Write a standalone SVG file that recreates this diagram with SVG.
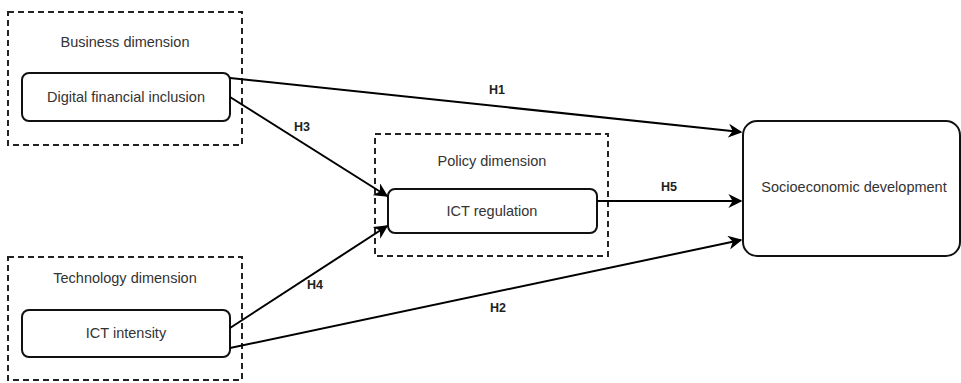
<svg xmlns="http://www.w3.org/2000/svg" width="961" height="383" viewBox="0 0 961 383">
<style>
.grp{fill:none;stroke:#222;stroke-width:2;stroke-dasharray:6 4}
.node{fill:#fff;stroke:#111;stroke-width:2}
.t{font-family:"Liberation Sans",Arial,sans-serif;font-size:14.5px;fill:#333;text-anchor:middle;dominant-baseline:central}
.lbl{font-family:"Liberation Sans",Arial,sans-serif;font-size:12.5px;font-weight:bold;fill:#222;text-anchor:middle;dominant-baseline:central}
.e{fill:none;stroke:#000;stroke-width:2}
</style>
<defs>
<marker id="arr" viewBox="0 0 10 10" refX="9" refY="5" markerWidth="7" markerHeight="7" markerUnits="strokeWidth" orient="auto">
<path d="M0,0 L10,5 L0,10 L3,5 Z" fill="#000"/>
</marker>
</defs>
<rect width="961" height="383" fill="#fff"/>
<g id="business-dimension">
<rect class="grp" x="8" y="12" width="234" height="133"/>
<text class="t" x="125" y="42">Business dimension</text>
</g>
<g id="technology-dimension">
<rect class="grp" x="8" y="257" width="234" height="123"/>
<text class="t" x="125" y="278">Technology dimension</text>
</g>
<g id="policy-dimension">
<rect class="grp" x="375" y="134" width="233" height="122"/>
<text class="t" x="492" y="161">Policy dimension</text>
</g>
<g id="dfi">
<rect class="node" x="22" y="73" width="208" height="48" rx="7"/>
<text class="t" x="126" y="97">Digital financial inclusion</text>
</g>
<g id="ict-intensity">
<rect class="node" x="22" y="310" width="208" height="47" rx="7"/>
<text class="t" x="126" y="333">ICT intensity</text>
</g>
<g id="ict-regulation">
<rect class="node" x="388" y="189" width="209" height="44" rx="7"/>
<text class="t" x="492" y="211">ICT regulation</text>
</g>
<g id="socioeconomic">
<rect class="node" x="743" y="121" width="217" height="135" rx="14"/>
<text class="t" x="854" y="187">Socioeconomic development</text>
</g>
<g id="connectors">
<path class="e" d="M230,78 L741,132" marker-end="url(#arr)"/>
<path class="e" d="M230,97 L387,196" marker-end="url(#arr)"/>
<path class="e" d="M230,328 L387,226" marker-end="url(#arr)"/>
<path class="e" d="M597,201 L741,201" marker-end="url(#arr)"/>
<path class="e" d="M230,348 L741,240" marker-end="url(#arr)"/>
<text class="lbl" x="497" y="90">H1</text>
<text class="lbl" x="302" y="127">H3</text>
<text class="lbl" x="669" y="187">H5</text>
<text class="lbl" x="315" y="285">H4</text>
<text class="lbl" x="498" y="308">H2</text>
</g>
</svg>
